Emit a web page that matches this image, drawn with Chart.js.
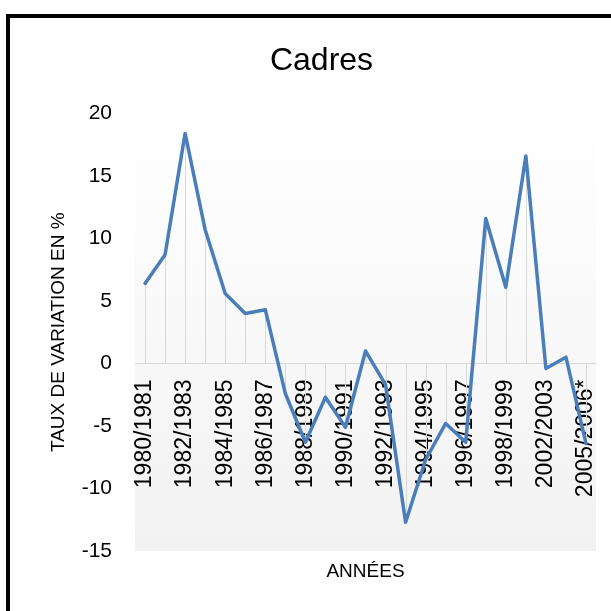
<!DOCTYPE html>
<html><head><meta charset="utf-8">
<script src="https://cdn.jsdelivr.net/npm/chart.js@4.4.1/dist/chart.umd.min.js"></script>
<style>
html,body{margin:0;padding:0;background:#fff;overflow:hidden;width:611px;height:611px}
#wrap{position:relative;width:611px;height:611px}
canvas{position:absolute;left:0;top:0}
#frame{position:absolute;left:6px;top:14px;width:700px;height:700px;border-left:4px solid #000;border-top:4px solid #000;pointer-events:none}
</style></head>
<body><div id="wrap"><canvas id="c" width="611" height="611"></canvas><div id="frame"></div></div>
<script>
const categories = ["1980/1981","1981/1982","1982/1983","1983/1984","1984/1985","1985/1986","1986/1987","1987/1988","1988/1989","1989/1990","1990/1991","1991/1992","1992/1993","1993/1994","1994/1995","1995/1996","1996/1997","1997/1998","1998/1999","2000/2001","2002/2003","2003/2004","2005/2006*"];
const values = [6.4, 8.7, 18.4, 10.7, 5.6, 4.0, 4.3, -2.4, -6.3, -2.7, -5.1, 1.0, -1.7, -12.7, -7.7, -4.8, -6.3, 11.6, 6.1, 16.6, -0.4, 0.5, -6.4];
const yMin = -15, yMax = 20, yStep = 5;
const chartTitle = "Cadres";
const xTitle = "ANNÉES";
const yTitle = "TAUX DE VARIATION EN %";

const FONT = "'Liberation Sans', Arial, sans-serif";

const bgPlugin = {
  id: 'plotBg',
  beforeDraw(chart) {
    const {ctx, chartArea: a} = chart;
    const g = ctx.createLinearGradient(0, a.top, 0, a.bottom);
    g.addColorStop(0, '#ffffff');
    g.addColorStop(1, '#f2f2f2');
    ctx.save();
    ctx.fillStyle = g;
    ctx.fillRect(a.left, a.top, a.right - a.left, a.bottom - a.top);
    ctx.restore();
  }
};
const dropLines = {
  id: 'dropLines',
  beforeDatasetsDraw(chart) {
    const {ctx} = chart;
    const meta = chart.getDatasetMeta(0);
    const y0 = chart.scales.y.getPixelForValue(0);
    ctx.save();
    ctx.strokeStyle = '#d9d9d9';
    ctx.lineWidth = 1;
    meta.data.forEach(p => {
      const x = Math.round(p.x) + 0.5;
      ctx.beginPath();
      ctx.moveTo(x, y0);
      ctx.lineTo(x, p.y);
      ctx.stroke();
    });
    ctx.restore();
  }
};

new Chart(document.getElementById('c'), {
  type: 'line',
  data: {
    labels: categories,
    datasets: [{
      data: values,
      borderColor: '#4a7ebb',
      borderWidth: 3.5,
      pointRadius: 0,
      tension: 0,
      borderJoinStyle: 'round',
      borderCapStyle: 'round',
      fill: false
    }]
  },
  options: {
    responsive: false,
    devicePixelRatio: 1,
    animation: false,
    layout: {padding: {left: 47, right: 15, top: 0, bottom: 0}},
    plugins: {
      legend: {display: false},
      tooltip: {enabled: false},
      title: {display: true, text: chartTitle, color: '#000',
        font: {family: FONT, size: 32, weight: 'normal', lineHeight: 1.2},
        padding: {top: 42, bottom: 33}},
      subtitle: {display: true, position: 'bottom', fullSize: false, text: xTitle, color: '#000',
        font: {family: FONT, size: 19, weight: 'normal', lineHeight: 1.2},
        padding: {top: 9.6, bottom: 27.6}}
    },
    scales: {
      x: {
        type: 'category',
        position: {y: 0},
        offset: true,
        grid: {display: false, drawTicks: false},
        border: {display: true, color: '#d9d9d9', width: 1},
        afterFit: (s) => { s.paddingLeft = 0; s.paddingRight = 0; },
        ticks: {
          autoSkip: false, maxRotation: 90, minRotation: 90, padding: 16,
          color: '#000', font: {family: FONT, size: 23},
          callback: function(v, i) { return i % 2 === 0 ? this.getLabelForValue(v) : ''; }
        }
      },
      y: {
        min: yMin, max: yMax,
        grid: {display: false, drawTicks: false},
        border: {display: false},
        afterFit: (s) => { s.width = 88; },
        ticks: {stepSize: yStep, padding: 23, color: '#000', font: {family: FONT, size: 21}},
        title: {display: true, text: yTitle, color: '#000',
          font: {family: FONT, size: 19, weight: 'normal', lineHeight: 1.2},
          padding: {top: 0, bottom: 0}}
      }
    }
  },
  plugins: [bgPlugin, dropLines]
});
</script>
</body></html>
